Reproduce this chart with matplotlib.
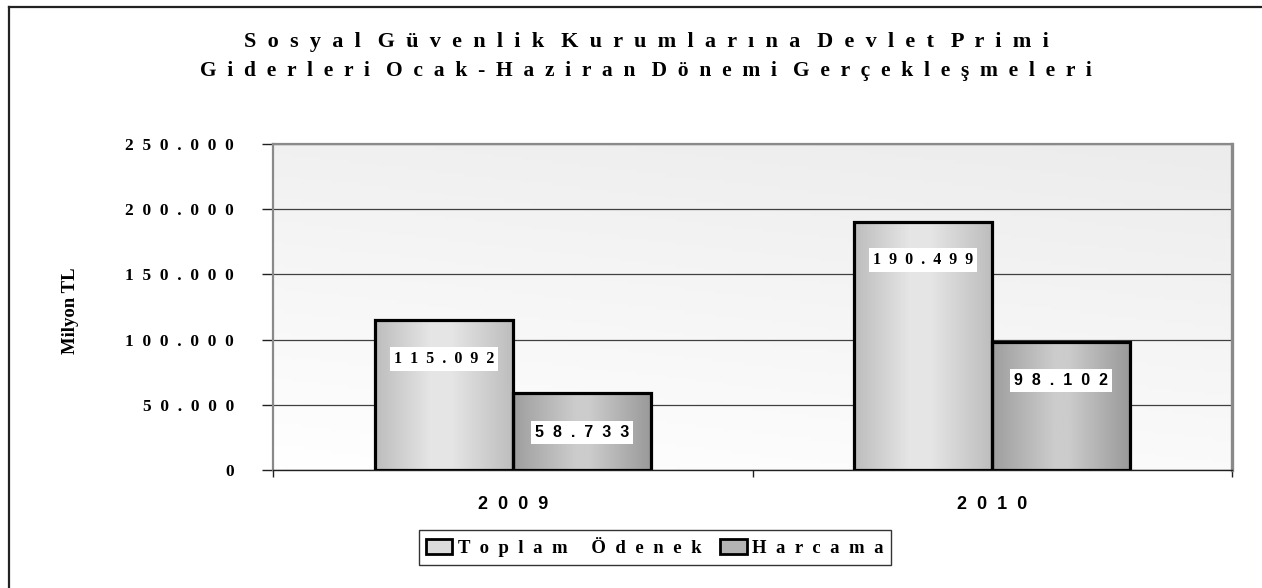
import matplotlib
matplotlib.use('Agg')
import matplotlib.pyplot as plt
import numpy as np
from matplotlib.patches import Patch
from matplotlib.lines import Line2D

# data
years = ['2009', '2010']
toplam_odenek = [115092, 190499]
harcama = [58733, 98102]
series_names = ['Toplam Ödenek', 'Harcama']
title_lines = ['Sosyal Güvenlik Kurumlarına Devlet Primi',
               'Giderleri Ocak-Haziran Dönemi Gerçekleşmeleri']
y_ticks = [0, 50000, 100000, 150000, 200000, 250000]
y_label = 'Milyon TL'

SERIF = 'Liberation Serif'
SANS = 'Liberation Sans'


def spaced(s, gap=2, word_gap=4):
    words = s.split(' ')
    return (' ' * word_gap).join((' ' * gap).join(w) for w in words)


def fmt(v):
    return f'{v:,}'.replace(',', '.')


def grad_rgb(stops, vals, n=200):
    t = np.linspace(0, 1, n)
    g = np.interp(t, stops, vals)
    return np.dstack([g, g, g])


fig = plt.figure(figsize=(12.62, 5.88), dpi=100)
ax = fig.add_axes([273 / 1262, 1 - 470 / 588, (1232 - 273) / 1262, (470 - 144) / 588])

# plot area background gradient
yy, xx = np.mgrid[0:1:100j, 0:1:100j]
bg = 1 - 0.075 * (0.75 * yy + 0.25 * xx)
ax.imshow(np.dstack([bg, bg, bg]), extent=[0, 1, 0, 1], transform=ax.transAxes,
          origin='lower', aspect='auto', zorder=0)

x = np.arange(len(years))
w = 0.288
bars1 = ax.bar(x - w / 2, toplam_odenek, w, facecolor='none', edgecolor='black',
               linewidth=2.3, zorder=3)
bars2 = ax.bar(x + w / 2, harcama, w, facecolor='none', edgecolor='black',
               linewidth=2.3, zorder=3)

# gradient fills clipped to each bar
g1 = grad_rgb([0, 0.4, 0.55, 1], [0.74, 0.9, 0.9, 0.74])
g2 = grad_rgb([0, 0.45, 0.55, 1], [0.62, 0.8, 0.8, 0.6])
for bars, g in ((bars1, g1), (bars2, g2)):
    for p in bars:
        im = ax.imshow(g, extent=[p.get_x(), p.get_x() + p.get_width(), 0, p.get_height()],
                       aspect='auto', zorder=2.5, origin='lower')
        im.set_clip_path(p)

# data labels
for bars, vals, fam in ((bars1, toplam_odenek, SERIF), (bars2, harcama, SANS)):
    for p, v in zip(bars, vals):
        ax.annotate(spaced(fmt(v), gap=2), xy=(p.get_x() + p.get_width() / 2, v),
                    xytext=(0, -28), textcoords='offset points', ha='center', va='center',
                    fontsize=11.5, fontweight='bold', family=fam, zorder=5,
                    bbox=dict(boxstyle='square,pad=0.25', facecolor='white', edgecolor='none'))

ax.set_xlim(-0.5, 1.5)
ax.set_ylim(0, 250000)

ax.set_yticks(y_ticks)
ax.set_yticklabels([spaced(fmt(t), gap=2) for t in y_ticks], family=SERIF,
                   fontweight='bold', fontsize=12.5)
ax.tick_params(axis='y', length=8, width=1, color='#202020', pad=20)
ax.yaxis.grid(True, color='#404040', linewidth=0.9, zorder=1)
ax.set_axisbelow(True)

ax.set_xticks(x)
ax.set_xticklabels([spaced(y, gap=2) for y in years], family=SANS, fontweight='bold', fontsize=13)
ax.set_xticks([-0.5, 0.5, 1.5], minor=True)
ax.tick_params(axis='x', which='major', length=0, pad=19)
ax.tick_params(axis='x', which='minor', length=5, width=1, color='#202020')

for s in ('left', 'top'):
    ax.spines[s].set_color('#8a8a8a')
    ax.spines[s].set_linewidth(1.6)
ax.spines['right'].set_color('#8a8a8a')
ax.spines['right'].set_linewidth(2.4)
ax.spines['bottom'].set_color('#202020')
ax.spines['bottom'].set_linewidth(1.0)

ax.set_ylabel(y_label, family=SERIF, fontweight='bold', fontsize=13.5, labelpad=0)
ax.yaxis.set_label_coords(-(273 - 79) / (1232 - 273), 0.49)

# title
fig.text(0.512, 1 - 42 / 588, spaced(title_lines[0], gap=2, word_gap=3), ha='center', va='center',
         family=SERIF, fontweight='bold', fontsize=16)
fig.text(0.512, 1 - 71 / 588, spaced(title_lines[1], gap=2, word_gap=3), ha='center', va='center',
         family=SERIF, fontweight='bold', fontsize=15.5)

# legend
handles = [Patch(facecolor='#dcdcdc', edgecolor='black', linewidth=2),
           Patch(facecolor='#b4b4b4', edgecolor='black', linewidth=2)]
leg = fig.legend(handles, [spaced(n, gap=2, word_gap=5) for n in series_names],
                 loc='center', bbox_to_anchor=(655 / 1262, 1 - 547 / 588), ncol=2,
                 frameon=True, fancybox=False, handlelength=1.4, handleheight=0.8,
                 handletextpad=0.3, columnspacing=1.0, borderpad=0.4,
                 prop=dict(family=SERIF, weight='bold', size=13.5))
leg.get_frame().set_edgecolor('black')
leg.get_frame().set_linewidth(1.0)

# outer chart frame
fig.add_artist(Line2D([8.5 / 1262, 8.5 / 1262], [1 - 6.5 / 588, -0.1], color='#222222',
                      linewidth=1.6, transform=fig.transFigure))
fig.add_artist(Line2D([8.5 / 1262, 1.1], [1 - 6.5 / 588, 1 - 6.5 / 588], color='#222222',
                      linewidth=1.6, transform=fig.transFigure))

fig.savefig('out.png', dpi=100, facecolor='white')
